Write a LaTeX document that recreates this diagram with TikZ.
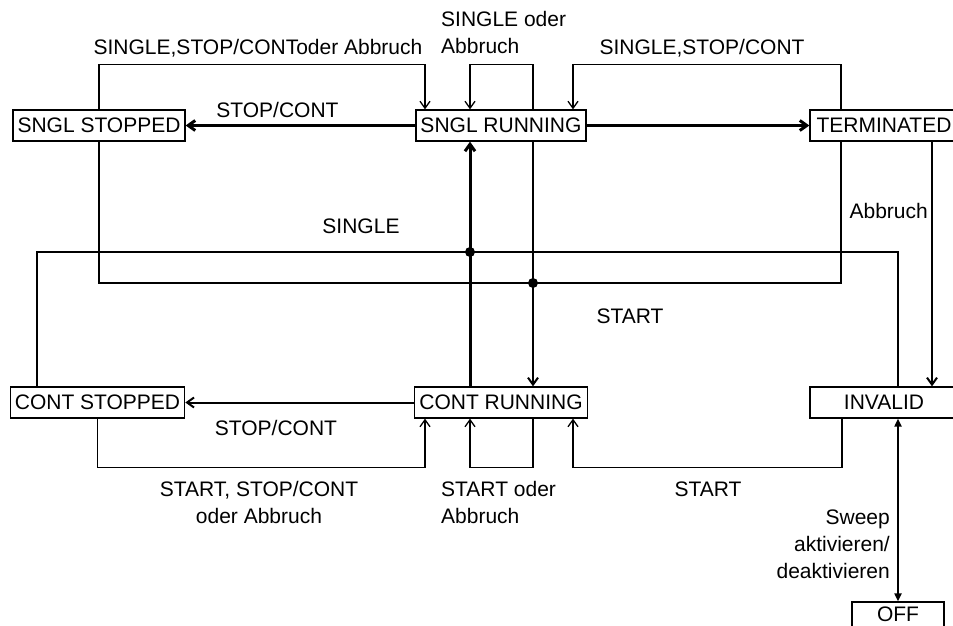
\documentclass[tikz,border=0pt]{standalone}
\usepackage{fontspec}
\setmainfont{Liberation Sans}
\usetikzlibrary{arrows.meta}

\begin{document}
\begin{tikzpicture}[x=1pt,y=1pt,>={Straight Barb[length=7pt,width=10pt]},
  every node/.style={font=\fontsize{21}{27}\selectfont},
  state/.style={draw,line width=1.3pt,inner xsep=4.5pt,inner ysep=0pt,minimum height=31pt},
  lbl/.style={inner sep=0pt},
  trans/.style={line width=1.3pt},
  mid/.style={line width=2pt},
  heavy/.style={line width=3pt}]
\clip (0,0) rectangle (953,625);
% states
\node[state] (srun) at (501,499.5) {SNGL RUNNING};
\node[state] (sstop) at (99,499.5) {SNGL STOPPED};
\node[state,minimum width=148pt] (term) at (884,499.5) {TERMINATED};
\node[state] (crun) at (501,222.5) {CONT RUNNING};
\node[state] (cstop) at (97.5,222.5) {CONT STOPPED};
\node[state,minimum width=148pt] (inval) at (884,222.5) {INVALID};
\node[state,minimum width=92pt,minimum height=25pt] (off) at (898,10.5) {OFF};
\coordinate (jsingle) at (470,373);
\coordinate (jstart) at (533,342);
% upper row
\draw[heavy,->] (srun.west) -- (sstop.east);
\draw[heavy,->] (srun.east) -- (term.west);
\draw[trans,->] (sstop.north) -- ++(0,45) -| ([xshift=-76pt]srun.north);
\draw[trans,->] ([xshift=32pt]srun.north) -- ++(0,45) -| ([xshift=-31pt]srun.north);
\draw[trans,->] ([xshift=-43pt]term.north) -- ++(0,45) -| ([xshift=72pt]srun.north);
\draw[mid,->] ([xshift=48pt]term.south) -- ([xshift=48pt]inval.north);
% middle
\draw[heavy,->] ([xshift=-31pt]crun.north) -- (jsingle) -- ([xshift=-31pt]srun.south);
\draw[mid,->] ([xshift=32pt]srun.south) -- (jstart) -- ([xshift=32pt]crun.north);
\draw[trans] (sstop.south) |- (jstart) -| ([xshift=-43pt]term.south);
\draw[trans] ([xshift=-60.5pt]cstop.north) |- (jsingle) -| ([xshift=14pt]inval.north);
\fill (jsingle) circle (5pt);
\fill (jstart) circle (5pt);
% lower row
\draw[mid,->] (crun.west) -- (cstop.east);
\draw[trans,->] (cstop.south) -- ++(0,-49) -| ([xshift=-76pt]crun.south);
\draw[trans,->] ([xshift=32pt]crun.south) -- ++(0,-49) -| ([xshift=-31pt]crun.south);
\draw[trans,->] ([xshift=-42pt]inval.south) -- ++(0,-49) -| ([xshift=72pt]crun.south);
\draw[mid,{Triangle[length=8pt,width=7pt]}-{Triangle[length=8pt,width=7pt]}] ([xshift=14pt]inval.south) -- (off.north);
% labels
\node[lbl,anchor=base] (lstops) at (277.5,507) {STOP/CONT};
\node[lbl,anchor=base] (lsngl) at (258,570.5) {SINGLE,STOP/CONToder Abbruch};
\node[lbl,anchor=west,align=left] (lsnglself) at (441,593) {SINGLE oder\\Abbruch};
\node[lbl,anchor=base] (lterm) at (702,570.5) {SINGLE,STOP/CONT};
\node[lbl,anchor=base east] (labort) at (928,406.5) {Abbruch};
\node[lbl,anchor=base] (lsingle) at (361,391.5) {SINGLE};
\node[lbl,anchor=base] (lstart) at (630,301.5) {START};
\node[lbl,anchor=base] (lstopc) at (276,189.5) {STOP/CONT};
\node[lbl,align=center] (lcstop) at (259,122.3) {START, STOP/CONT\\oder Abbruch};
\node[lbl,anchor=west,align=left] (lcself) at (441,122.3) {START oder\\Abbruch};
\node[lbl,anchor=base] (linval) at (708,128.3) {START};
\node[lbl,anchor=east,align=right] (lsweep) at (890,81) {Sweep\\aktivieren/\\deaktivieren};
\end{tikzpicture}
\end{document}
